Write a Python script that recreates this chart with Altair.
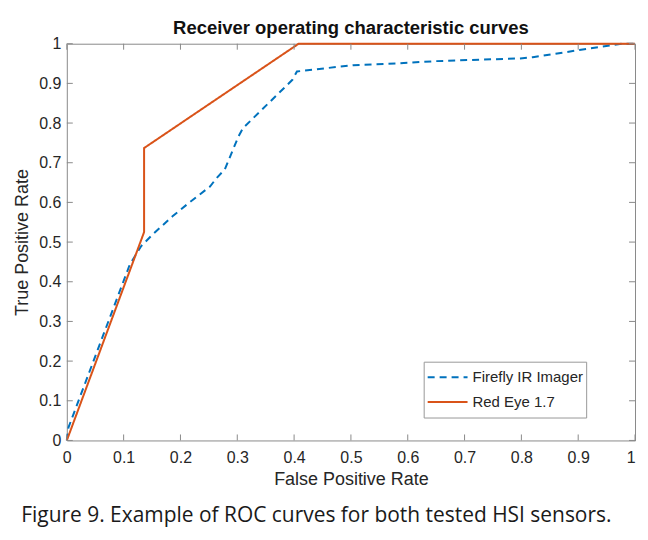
import altair as alt
import pandas as pd

# ---- data ----
series_names = ["Firefly IR Imager", "Red Eye 1.7"]

firefly_fpr = [0.0, 0.003, 0.111, 0.131, 0.151, 0.186, 0.215, 0.252, 0.264, 0.278,
               0.302, 0.310, 0.397, 0.405, 0.504, 0.579, 0.648, 0.798, 0.820, 0.902,
               0.977, 1.0]
firefly_tpr = [0.0, 0.033, 0.444, 0.490, 0.519, 0.565, 0.599, 0.640, 0.662, 0.683,
               0.766, 0.787, 0.909, 0.930, 0.946, 0.950, 0.956, 0.963, 0.966, 0.984,
               1.0, 1.0]

redeye_fpr = [0.0, 0.136, 0.136, 0.408, 1.0]
redeye_tpr = [0.0, 0.525, 0.737, 1.0, 1.0]

x_ticks = [0, 0.1, 0.2, 0.3, 0.4, 0.5, 0.6, 0.7, 0.8, 0.9, 1]
y_ticks = [0, 0.1, 0.2, 0.3, 0.4, 0.5, 0.6, 0.7, 0.8, 0.9, 1]

title_text = "Receiver operating characteristic curves"
x_title = "False Positive Rate"
y_title = "True Positive Rate"
caption = "Figure 9. Example of ROC curves for both tested HSI sensors."

# ---- build tables ----
rows = []
for i, (x, y) in enumerate(zip(firefly_fpr, firefly_tpr)):
    rows.append({"series": series_names[0], "fpr": x, "tpr": y, "order": i})
for i, (x, y) in enumerate(zip(redeye_fpr, redeye_tpr)):
    rows.append({"series": series_names[1], "fpr": x, "tpr": y, "order": i})
df = pd.DataFrame(rows)

W, H = 570, 398
FONT = "Liberation Sans"
AXIS_GRAY = "#8a8a8a"
TXT = "#262626"

xscale = alt.Scale(domain=[0, 1], nice=False, zero=False)
yscale = alt.Scale(domain=[0, 1], nice=False, zero=False)

x_axis = alt.Axis(values=x_ticks, format="~g", ticks=False, domain=False,
                  grid=False, labelPadding=9, titlePadding=5, labelFontSize=16,
                  titleFontSize=18, labelFlush=False, labelOverlap=False,
                  labelAlign={"expr": "datum.value == 1 ? 'right' : 'center'"},
                  labelFont=FONT, titleFont=FONT)
y_axis = alt.Axis(values=y_ticks, format="~g", ticks=False, domain=False,
                  grid=False, labelPadding=6, titlePadding=7, labelFontSize=16,
                  titleFontSize=18, labelFlush=False, labelOverlap=False,
                  labelFont=FONT, titleFont=FONT)

legend_cfg = dict(title=None, orient="none", legendX=358, legendY=319,
                  symbolType="stroke", symbolSize=1600, symbolStrokeWidth=2,
                  labelFontSize=15, labelFont=FONT, labelColor=TXT,
                  rowPadding=0, clipHeight=25, padding=3, strokeColor="#999",
                  fillColor="white", labelLimit=300, labelOffset=4)

lines = alt.Chart(df).mark_line(strokeWidth=2).encode(
    x=alt.X("fpr:Q", scale=xscale, title=x_title, axis=x_axis),
    y=alt.Y("tpr:Q", scale=yscale, title=y_title, axis=y_axis),
    color=alt.Color("series:N", scale=alt.Scale(domain=series_names,
                                                range=["#0072BD", "#D95319"]),
                    legend=alt.Legend(**legend_cfg)),
    strokeDash=alt.StrokeDash("series:N",
                              scale=alt.Scale(domain=series_names,
                                              range=[[7, 5], [1, 0]]),
                              legend=alt.Legend(**legend_cfg)),
    order="order:Q",
)

xt = pd.DataFrame({"v": x_ticks})
yt = pd.DataFrame({"v": y_ticks})

tick_bottom = alt.Chart(xt).mark_rule(color=AXIS_GRAY, strokeWidth=1).encode(
    x=alt.X("v:Q", scale=xscale, title=x_title, axis=x_axis),
    y=alt.value(H), y2=alt.value(H - 6))
tick_top = alt.Chart(xt).mark_rule(color=AXIS_GRAY, strokeWidth=1).encode(
    x=alt.X("v:Q", scale=xscale, title=x_title, axis=x_axis),
    y=alt.value(0), y2=alt.value(6))
tick_left = alt.Chart(yt).mark_rule(color=AXIS_GRAY, strokeWidth=1).encode(
    y=alt.Y("v:Q", scale=yscale, title=y_title, axis=y_axis),
    x=alt.value(0), x2=alt.value(6))
tick_right = alt.Chart(yt).mark_rule(color=AXIS_GRAY, strokeWidth=1).encode(
    y=alt.Y("v:Q", scale=yscale, title=y_title, axis=y_axis),
    x=alt.value(W), x2=alt.value(W - 6))

main = alt.layer(lines, tick_bottom, tick_top, tick_left, tick_right).properties(
    width=W, height=H,
    title=alt.Title(title_text, font=FONT, fontSize=18.5, fontWeight="bold",
                    color="#111", offset=1, dy=3),
)

chart = alt.vconcat(main).properties(
    title=alt.Title(caption, orient="bottom", anchor="start", font="Open Sans",
                    fontSize=21, fontWeight="normal", color="#1a1a1a", offset=16,
                    dx=8),
    padding={"left": 5, "top": 10, "right": 0, "bottom": 0},
).configure_view(stroke=AXIS_GRAY, strokeWidth=1).configure_axis(
    labelFont=FONT, titleFont=FONT, labelColor=TXT, titleColor=TXT,
    titleFontWeight="normal"
)

chart.save("out.html", embed_options={"renderer": "svg", "actions": False})
